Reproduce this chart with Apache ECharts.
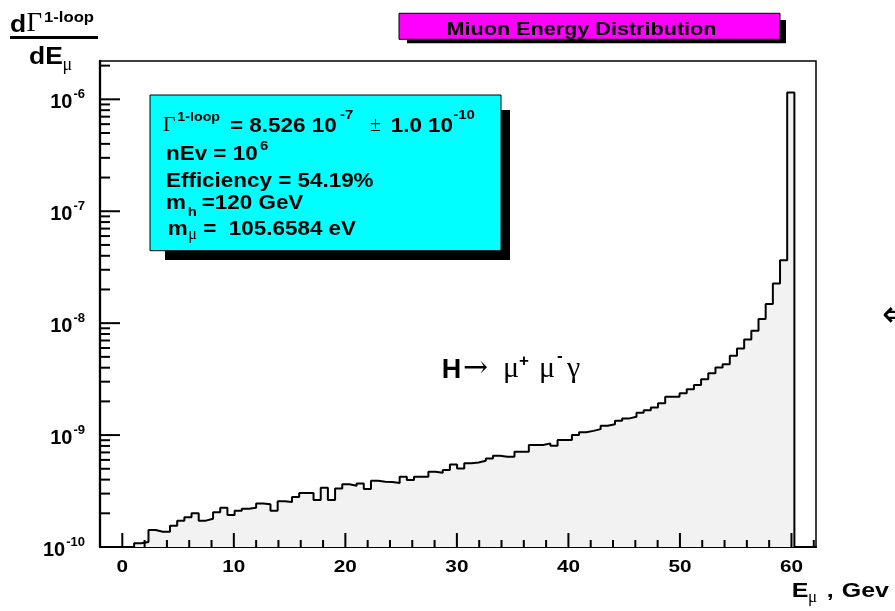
<!DOCTYPE html>
<html>
<head>
<meta charset="utf-8">
<script src="https://cdn.jsdelivr.net/npm/echarts@6/dist/echarts.min.js"></script>
<style>
  html, body { margin: 0; padding: 0; background: #ffffff; }
  #chart { width: 895px; height: 611px; }
</style>
</head>
<body>
<div id="chart"></div>
<script>
// ---- histogram binning (GeV) ----
const binLowEdge = 1.06;
const binWidth = 0.6435;

// dGamma/dE per bin, from the first filled bin up to the endpoint bin
const binValues = [
  1.08e-10, 1.11e-10, 1.42e-10, 1.37e-10, 1.37e-10, 1.55e-10, 1.72e-10, 1.84e-10, 2.00e-10, 1.72e-10,
  1.79e-10, 2.04e-10, 2.24e-10, 1.93e-10, 2.11e-10, 2.20e-10, 2.24e-10, 2.45e-10, 2.41e-10, 2.11e-10,
  2.56e-10, 2.52e-10, 2.80e-10, 3.04e-10, 3.04e-10, 2.63e-10, 3.38e-10, 2.63e-10, 3.34e-10, 3.63e-10,
  3.53e-10, 3.70e-10, 3.30e-10, 3.91e-10, 3.83e-10, 3.80e-10, 3.73e-10, 4.25e-10, 3.97e-10, 4.25e-10,
  4.25e-10, 4.70e-10, 4.61e-10, 4.87e-10, 5.47e-10, 5.04e-10, 5.59e-10, 5.70e-10, 5.90e-10, 6.19e-10,
  6.53e-10, 6.40e-10, 6.40e-10, 7.10e-10, 7.10e-10, 8.14e-10, 8.14e-10, 8.43e-10, 8.02e-10, 9.02e-10,
  9.02e-10, 1.00e-9, 1.06e-9, 1.09e-9, 1.13e-9, 1.21e-9, 1.25e-9, 1.34e-9, 1.41e-9, 1.46e-9,
  1.58e-9, 1.67e-9, 1.76e-9, 1.92e-9, 2.20e-9, 2.20e-9, 2.36e-9, 2.57e-9, 2.80e-9, 3.16e-9,
  3.56e-9, 4.02e-9, 4.30e-9, 5.11e-9, 5.94e-9, 7.15e-9, 8.54e-9, 1.09e-8, 1.48e-8, 2.26e-8,
  3.65e-8, 1.15e-6
];

// ---- axes ----
const xRange = [-2.0, 62.2];
const yRange = [1e-10, 2.2e-6];
const xTickLabels = [0, 10, 20, 30, 40, 50, 60];
const xMinorTicks = [2, 4, 6, 8, 12, 14, 16, 18, 22, 24, 26, 28, 32, 34, 36, 38,
                     42, 44, 46, 48, 52, 54, 56, 58, 62];
const yDecades = [1e-10, 1e-9, 1e-8, 1e-7, 1e-6];
const yExponents = ['-10', '-9', '-8', '-7', '-6'];
const yMinorTicks = [
  2e-10, 3e-10, 4e-10, 5e-10, 6e-10, 7e-10, 8e-10, 9e-10,
  2e-9, 3e-9, 4e-9, 5e-9, 6e-9, 7e-9, 8e-9, 9e-9,
  2e-8, 3e-8, 4e-8, 5e-8, 6e-8, 7e-8, 8e-8, 9e-8,
  2e-7, 3e-7, 4e-7, 5e-7, 6e-7, 7e-7, 8e-7, 9e-7,
  2e-6
];

// ---- step outline of the histogram ----
const nBins = binValues.length;
const stepPoints = [[binLowEdge, yRange[0]]];
binValues.forEach(function (v, i) { stepPoints.push([binLowEdge + i * binWidth, v]); });
stepPoints.push([binLowEdge + nBins * binWidth, binValues[nBins - 1]]);
stepPoints.push([binLowEdge + nBins * binWidth, yRange[0]]);

const SERIF = '"Liberation Serif", "DejaVu Serif", serif';
const HELV = '"Liberation Sans", Arial, sans-serif';

const measureCtx = document.createElement('canvas').getContext('2d');
function textWidth(str, font) { measureCtx.font = font; return measureCtx.measureText(str).width; }

// tick marks drawn through the axis scales
function tickSeries(values, onX, len) {
  return {
    type: 'custom', coordinateSystem: 'cartesian2d', silent: true, z: 6, clip: false,
    data: values.map(function (v) { return onX ? [v, yRange[0]] : [xRange[0], v]; }),
    renderItem: function (params, api) {
      const p = api.coord([api.value(0), api.value(1)]);
      const shape = onX
        ? { x1: p[0], y1: p[1], x2: p[0], y2: p[1] - len }
        : { x1: p[0], y1: p[1], x2: p[0] + len, y2: p[1] };
      return { type: 'line', shape: shape, style: { stroke: '#000', lineWidth: 2 } };
    }
  };
}

const LBL_MAIN = 'bold 20px ' + HELV;
const LBL_SUP = 'bold 13px ' + HELV;

// decade labels "10^n" on the log axis
const yLabelSeries = {
  type: 'custom', coordinateSystem: 'cartesian2d', silent: true, z: 6, clip: false,
  data: yDecades.map(function (v) { return [xRange[0], v]; }),
  renderItem: function (params, api) {
    const p = api.coord([api.value(0), api.value(1)]);
    const exp = yExponents[params.dataIndex];
    const supW = textWidth(exp, LBL_SUP);
    const right = p[0] - 15;
    return {
      type: 'group',
      children: [
        { type: 'text', x: right - supW - 1, y: p[1] + 3,
          style: { text: '10', font: LBL_MAIN, fill: '#000', align: 'right', verticalAlign: 'middle' } },
        { type: 'text', x: right - supW, y: p[1] - 5,
          style: { text: exp, font: LBL_SUP, fill: '#000', align: 'left', verticalAlign: 'middle' } }
      ]
    };
  }
};

// energy labels under the horizontal axis
const xLabelSeries = {
  type: 'custom', coordinateSystem: 'cartesian2d', silent: true, z: 6, clip: false,
  data: xTickLabels.map(function (v) { return [v, yRange[0]]; }),
  renderItem: function (params, api) {
    const p = api.coord([api.value(0), api.value(1)]);
    return {
      type: 'text', x: p[0], y: p[1] + 20.5, scaleX: 1.22,
      style: { text: String(xTickLabels[params.dataIndex]), font: 'bold 17px ' + HELV,
               fill: '#000', align: 'center', verticalAlign: 'middle' }
    };
  }
};

// text helper: x = left edge (or anchor), base = baseline, sx = horizontal stretch
function txt(str, x, base, size, family, weight, align, sx) {
  return {
    type: 'text', x: x, y: base - 0.36 * size, z: 20, scaleX: sx || 1,
    style: {
      text: str, fill: '#000', align: align || 'left', verticalAlign: 'middle',
      font: (weight || 'bold') + ' ' + size + 'px ' + family
    }
  };
}
const W = 1.15;   // horizontal stretch of the annotation font

const graphics = [
  // axis title on the vertical axis
  txt('d', 10, 33.5, 23, HELV, 'bold', 'left', W),
  txt('\u0393', 26.5, 33.5, 27, SERIF, 'normal'),
  txt('1-loop', 44, 23, 14.5, HELV, 'bold', 'left', W),
  { type: 'line', z: 20, shape: { x1: 10, y1: 37.5, x2: 98, y2: 37.5 }, style: { stroke: '#000', lineWidth: 3 } },
  txt('dE', 29, 65.5, 23, HELV, 'bold', 'left', W),
  txt('\u03bc', 62.5, 72, 18, SERIF, 'normal'),

  // title pave
  { type: 'rect', z: 18, shape: { x: 407, y: 20, width: 379, height: 23.3 }, style: { fill: '#000' } },
  { type: 'rect', z: 19, shape: { x: 399, y: 13.3, width: 381, height: 26 }, style: { fill: '#ff00ff', stroke: '#000', lineWidth: 1 } },
  txt('Miuon Energy Distribution', 581.5, 36.5, 18.8, HELV, 'bold', 'center', W),

  // statistics pave
  { type: 'rect', z: 18, shape: { x: 165, y: 110, width: 345, height: 150 }, style: { fill: '#000' } },
  { type: 'rect', z: 19, shape: { x: 150, y: 95, width: 351, height: 155.7 }, style: { fill: '#00ffff', stroke: '#000', lineWidth: 1 } },
  txt('\u0393', 162.7, 133.3, 22, SERIF, 'normal'),
  txt('1-loop', 177.3, 122, 12.4, HELV, 'bold', 'left', W),
  txt('= 8.526 10', 230, 133.3, 19.5, HELV, 'bold', 'left', W),
  txt('-7', 340, 120, 13, HELV, 'bold', 'left', W),
  txt('\u00b1', 370, 133.3, 20, SERIF, 'normal'),
  txt('1.0 10', 390.7, 133.3, 19.5, HELV, 'bold', 'left', W),
  txt('-10', 453.3, 120, 13, HELV, 'bold', 'left', W),
  txt('nEv = 10', 166, 161.7, 19.5, HELV, 'bold', 'left', W),
  txt('6', 260, 151, 13, HELV, 'bold', 'left', W),
  txt('Efficiency = 54.19%', 166, 188.3, 19.5, HELV, 'bold', 'left', W),
  txt('m', 166, 210.7, 19.5, HELV, 'bold', 'left', W),
  txt('h', 187.7, 216.7, 13, HELV, 'bold', 'left', W),
  txt('=120 GeV', 201.7, 210.7, 19.5, HELV, 'bold', 'left', W),
  txt('m', 167.7, 236.7, 19.5, HELV, 'bold', 'left', W),
  txt('\u03bc', 188.3, 241, 16, SERIF, 'normal'),
  txt('=  105.6584 eV', 203.3, 236.7, 19.5, HELV, 'bold', 'left', W),

  // process label
  txt('H', 441.7, 380, 27, HELV),
  txt('\u2192', 463, 380, 30, '"DejaVu Serif", serif', 'normal'),
  txt('\u03bc', 503, 380, 30, SERIF, 'normal'),
  txt('+', 519, 367, 17, HELV),
  txt('\u03bc', 539, 380, 30, SERIF, 'normal'),
  txt('-', 557, 362, 17, HELV),
  txt('\u03b3', 567, 380, 30, SERIF, 'normal'),

  // horizontal axis title
  txt('E', 791.7, 598.3, 20, HELV, 'bold', 'left', 1.25),
  txt('\u03bc', 808, 604, 17, SERIF, 'normal'),
  txt(',', 826.7, 598.3, 20, HELV, 'bold', 'left', 1.25),
  txt('Gev', 841.7, 598.3, 20, HELV, 'bold', 'left', 1.25),

  // marker at the right edge
  txt('\u21d0', 882, 330, 36, '"DejaVu Sans", sans-serif', 'normal')
];

const chart = echarts.init(document.getElementById('chart'), null, { renderer: 'canvas' });
chart.setOption({
  animation: false,
  backgroundColor: '#ffffff',
  grid: {
    left: 100, right: 79, top: 61, bottom: 64,
    show: true, borderColor: '#000', borderWidth: 1.5, backgroundColor: 'transparent'
  },
  xAxis: {
    type: 'value', min: xRange[0], max: xRange[1],
    axisLine: { show: true, onZero: false, lineStyle: { color: '#000', width: 2 } },
    axisTick: { show: false },
    splitLine: { show: false },
    axisLabel: { show: false }
  },
  yAxis: {
    type: 'log', logBase: 10, min: yRange[0], max: yRange[1],
    axisLine: { show: true, onZero: false, lineStyle: { color: '#000', width: 2.3 } },
    axisTick: { show: false },
    splitLine: { show: false },
    axisLabel: { show: false }
  },
  series: [
    {
      name: 'dGamma/dE',
      type: 'line', step: 'end', data: stepPoints,
      showSymbol: false, symbol: 'none', z: 4,
      lineStyle: { color: '#000', width: 2 },
      areaStyle: { color: '#f2f2f2', opacity: 1, origin: 'start' }
    },
    tickSeries(xTickLabels, true, 14),
    tickSeries(xMinorTicks, true, 7),
    tickSeries(yDecades, false, 20),
    tickSeries(yMinorTicks, false, 10),
    yLabelSeries,
    xLabelSeries
  ],
  graphic: graphics
});
</script>
</body>
</html>
